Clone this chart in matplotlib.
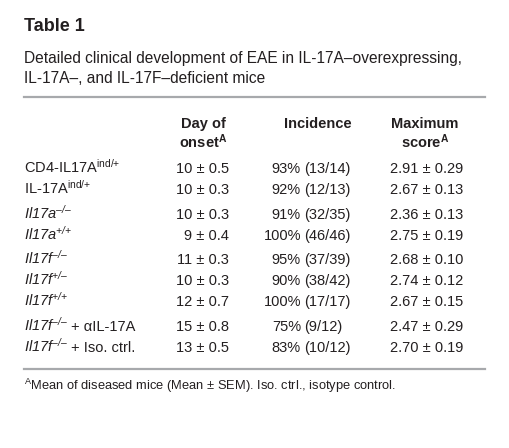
import matplotlib
matplotlib.use('Agg')
import matplotlib.pyplot as plt
from matplotlib.transforms import IdentityTransform

# table content
title = 'Table 1'
subtitle = ['Detailed clinical development of EAE in IL-17A\u2013overexpressing,',
            'IL-17A\u2013, and IL-17F\u2013deficient mice']
strains = ['CD4-IL17A', 'IL-17A', 'Il17a', 'Il17a', 'Il17f', 'Il17f', 'Il17f', 'Il17f', 'Il17f']
genotypes = ['ind/+', 'ind/+', '\u2013/\u2013', '+/+', '\u2013/\u2013', '+/\u2013', '+/+',
             '\u2013/\u2013', '\u2013/\u2013']
treatments = ['', '', '', '', '', '', '', '+ \u03b1IL-17A', '+ Iso. ctrl.']
italic_name = [False, False, True, True, True, True, True, True, True]
groups = [0, 0, 1, 1, 2, 2, 2, 3, 3]
onset_mean = [10, 10, 10, 9, 11, 10, 12, 15, 13]
onset_sem = [0.5, 0.3, 0.3, 0.4, 0.3, 0.3, 0.7, 0.8, 0.5]
incidence_pct = [93, 92, 91, 100, 95, 90, 100, 75, 83]
n_sick = [13, 12, 32, 46, 37, 38, 17, 9, 10]
n_total = [14, 13, 35, 46, 39, 42, 17, 12, 12]
score_mean = [2.91, 2.67, 2.36, 2.75, 2.68, 2.74, 2.67, 2.47, 2.70]
score_sem = [0.29, 0.13, 0.13, 0.19, 0.10, 0.12, 0.15, 0.29, 0.19]
footnote = 'Mean of diseased mice (Mean \u00b1 SEM). Iso. ctrl., isotype control.'

W, H = 509, 448
ink = '#231f20'
rule = '#a7a9ac'
body = 'Liberation Sans'
plt.rcParams['mathtext.fontset'] = 'custom'
plt.rcParams['mathtext.rm'] = 'Liberation Sans'
plt.rcParams['mathtext.it'] = 'Liberation Sans:italic'
plt.rcParams['mathtext.bf'] = 'Liberation Sans:bold'
plt.rcParams['font.family'] = [body, 'DejaVu Sans']

fig = plt.figure(figsize=(W / 100, H / 100), dpi=100)
fig.patch.set_facecolor('white')
rend = fig.canvas.get_renderer()
T = IdentityTransform()


def put(x, ybase, s, ha='left', size=10.5, **kw):
    return fig.text(x, H - ybase, s, transform=T, fontsize=size, color=ink,
                    ha=ha, va='baseline', **kw)


def sup(s):
    # braces keep '+' from getting binary-operator spacing
    s = s.replace('+', '{+}')
    return r'$^{\mathregular{%s}}$' % s


# title block
put(24, 31, title, size=13, fontweight='bold')
for k, line in enumerate(subtitle):
    put(24, 63 + 20 * k, line, size=11.2)

fig.add_artist(plt.Line2D([24, 485], [H - 97, H - 97], transform=T, color=rule, lw=1.6))

# column headers
hx = [203, 318, 425]
put(hx[0], 128, 'Day of', 'center', fontweight='bold')
put(hx[0], 148, 'onset' + sup('A'), 'center', fontweight='bold')
put(hx[1], 128, 'Incidence', 'center', fontweight='bold')
put(hx[2], 128, 'Maximum', 'center', fontweight='bold')
put(hx[2], 148, 'score' + sup('A'), 'center', fontweight='bold')

# rows
for i in range(len(strains)):
    yb = 173 + 21 * i + 3.5 * groups[i]
    st = 'italic' if italic_name[i] else 'normal'
    name = put(24, yb, strains[i] + sup(genotypes[i]), fontstyle=st)
    if treatments[i]:
        x1 = name.get_window_extent(rend).x1
        put(x1 + 3, yb, treatments[i])
    put(229, yb, f'{onset_mean[i]} \u00b1 {onset_sem[i]:.1f}', 'right')
    put(301, yb, f'{incidence_pct[i]}%', 'right')
    put(304, yb, f'({n_sick[i]}/{n_total[i]})')
    put(390, yb, f'{score_mean[i]:.2f} \u00b1 {score_sem[i]:.2f}')

fig.add_artist(plt.Line2D([24, 485], [H - 369, H - 369], transform=T, color=rule, lw=1.6))

put(24, 390, sup('A') + footnote, size=9.3)

fig.savefig('out.png', dpi=100, facecolor='white')
